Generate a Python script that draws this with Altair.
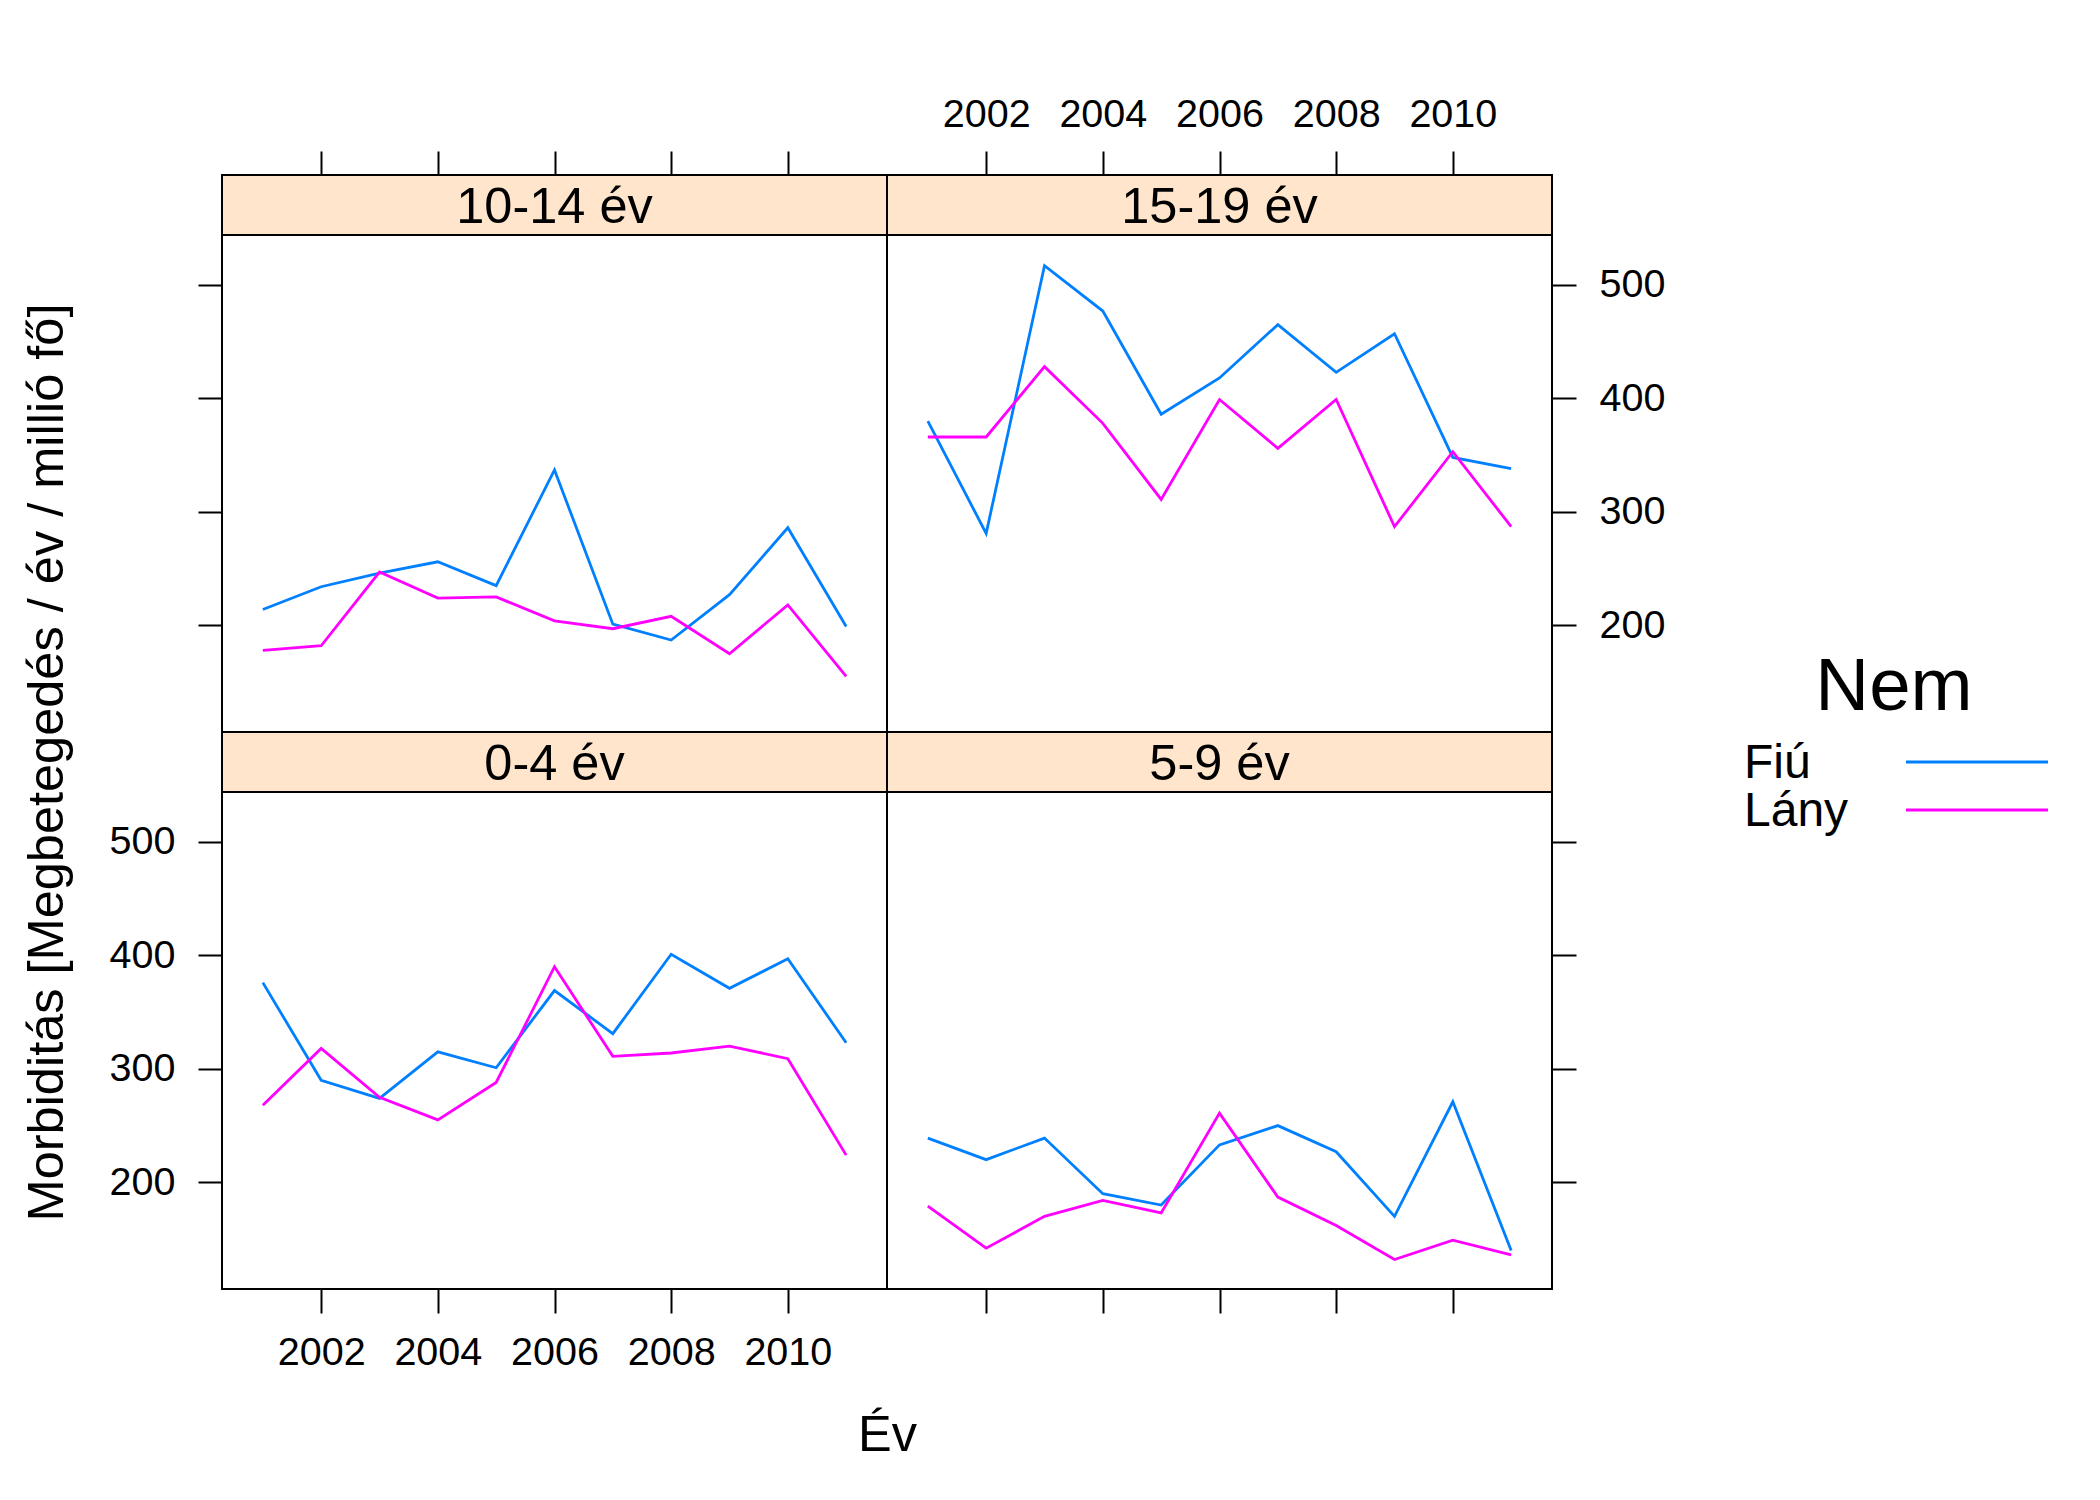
import altair as alt
import pandas as pd

FONT = "Liberation Sans"

years = list(range(2001, 2012))
sexes = ["Fiú", "Lány"]
colors = ["#0080ff", "#ff00ff"]
panel_names = ["10-14 év", "15-19 év", "0-4 év", "5-9 év"]

fiu_10_14 = [214, 234, 246, 256, 235, 337, 201, 187, 227, 286, 199]
lany_10_14 = [178, 182, 247, 224, 225, 204, 197, 208, 175, 218, 155]
fiu_15_19 = [380, 281, 517, 477, 386, 418, 465, 423, 457, 348, 338]
lany_15_19 = [366, 366, 428, 378, 311, 399, 356, 399, 287, 353, 287]
fiu_0_4 = [376, 290, 274, 315, 301, 369, 331, 401, 371, 397, 323]
lany_0_4 = [268, 318, 275, 255, 288, 390, 311, 314, 320, 309, 224]
fiu_5_9 = [239, 220, 239, 190, 180, 233, 250, 227, 170, 271, 140]
lany_5_9 = [179, 142, 170, 184, 173, 261, 187, 162, 132, 149, 136]

x_ticks = [2002, 2004, 2006, 2008, 2010]
y_ticks = [200, 300, 400, 500]

x_title = "Év"
y_title = "Morbiditás [Megbetegedés / év / millió fő]"
legend_title = "Nem"

series = {
    "10-14 év": (fiu_10_14, lany_10_14),
    "15-19 év": (fiu_15_19, lany_15_19),
    "0-4 év": (fiu_0_4, lany_0_4),
    "5-9 év": (fiu_5_9, lany_5_9),
}
rows = []
for name in panel_names:
    f, l = series[name]
    for yr, a, b in zip(years, f, l):
        rows.append({"panel": name, "year": yr, "sex": sexes[0], "value": a})
        rows.append({"panel": name, "year": yr, "sex": sexes[1], "value": b})
df = pd.DataFrame(rows)

# geometry
W = 665
STRIP_H = 60
PLOT_H = 497
H = STRIP_H + PLOT_H
Y_LO, Y_HI = 106, 544
Y_TOP = Y_HI + (Y_HI - Y_LO) * STRIP_H / PLOT_H

LINE_W = 2.8
TICK_FS = 39.5
TITLE_FS = 50.5
STRIP_FS = 50.5

xscale = alt.Scale(domain=[2000.3, 2011.7], nice=False, zero=False)
yscale = alt.Scale(domain=[Y_LO, Y_TOP], nice=False, zero=False)
cscale = alt.Scale(domain=sexes, range=colors)


def panel(name, xorient, xlab, yorient, ylab, with_titles=False):
    sub = df[df["panel"] == name]
    xkw = dict(orient=xorient, values=x_ticks, format="d", labels=xlab,
               tickSize=24, labelPadding=(17 if xorient == "top" else 20))
    ykw = dict(orient=yorient, values=y_ticks, labels=ylab,
               tickSize=24, labelPadding=23)
    if with_titles:
        xkw.update(title=x_title, titleX=W, titleY=161, titleAlign="center",
                   titleBaseline="alphabetic", titleFontSize=TITLE_FS, titleFont=FONT,
                   titleFontWeight="normal", titleColor="black")
        ykw.update(title=y_title, titleX=-160, titleY=30, titleAngle=270,
                   titleAlign="center", titleBaseline="alphabetic",
                   titleFontSize=TITLE_FS, titleFont=FONT, titleFontWeight="normal",
                   titleColor="black")
    else:
        xkw.update(title=None)
        ykw.update(title=None)

    strip_df = pd.DataFrame({"panel": [name]})
    strip_bg = alt.Chart(strip_df).mark_rect(
        fill="#ffe5cc", stroke="black", strokeWidth=2
    ).encode(
        x=alt.value(0), x2=alt.value("width"),
        y=alt.value(0), y2=alt.value(STRIP_H),
    )
    strip_txt = alt.Chart(strip_df).mark_text(
        font=FONT, fontSize=STRIP_FS, baseline="alphabetic", align="center", color="black"
    ).encode(
        x=alt.value(W / 2), y=alt.value(48), text="panel:N"
    )
    lines = alt.Chart(sub).mark_line(strokeWidth=LINE_W).encode(
        x=alt.X("year:Q", scale=xscale, axis=alt.Axis(**xkw)),
        y=alt.Y("value:Q", scale=yscale, axis=alt.Axis(**ykw)),
        color=alt.Color("sex:N", scale=cscale, legend=None),
    )
    return alt.layer(strip_bg, lines, strip_txt).properties(width=W, height=H)


tl = panel("10-14 év", "top", False, "left", False)
tr = panel("15-19 év", "top", True, "right", True)
bl = panel("0-4 év", "bottom", True, "left", True, with_titles=True)
br = panel("5-9 év", "bottom", False, "right", False)

grid = alt.concat(tl, tr, bl, br, columns=2, spacing=0, bounds="flush")

# custom legend (labels left, line keys right)
leg_df = pd.DataFrame({"sex": sexes})
leg_title_df = pd.DataFrame({"t": [legend_title]})
leg_y = alt.Scale(type="point", domain=sexes, range=[587, 635], padding=0)

leg_title = alt.Chart(leg_title_df).mark_text(
    font=FONT, fontSize=74.5, align="center", baseline="alphabetic", color="black"
).encode(x=alt.value(228), y=alt.value(535), text="t:N")
leg_labels = alt.Chart(leg_df).mark_text(
    font=FONT, fontSize=48, align="left", baseline="alphabetic", dy=16, color="black"
).encode(
    x=alt.value(78),
    y=alt.Y("sex:N", scale=leg_y, axis=None),
    text="sex:N",
)
leg_lines = alt.Chart(leg_df).mark_rule(strokeWidth=LINE_W).encode(
    x=alt.value(240), x2=alt.value(382),
    y=alt.Y("sex:N", scale=leg_y, axis=None),
    color=alt.Color("sex:N", scale=cscale, legend=None),
)
legend = alt.layer(leg_title, leg_labels, leg_lines).properties(
    width=400, height=H * 2, view=alt.ViewBackground(strokeOpacity=0)
)

chart = alt.hconcat(grid, legend, spacing=0).properties(
    padding={"left": 12, "top": 85, "right": 5, "bottom": 5},
    background="white",
).configure_view(
    stroke="black", strokeWidth=2
).configure_axis(
    labelFont=FONT, labelFontSize=TICK_FS, labelColor="black",
    tickColor="black", tickWidth=2, domain=False, grid=False,
)

chart.save("out.html", embed_options={"renderer": "svg", "actions": False})
